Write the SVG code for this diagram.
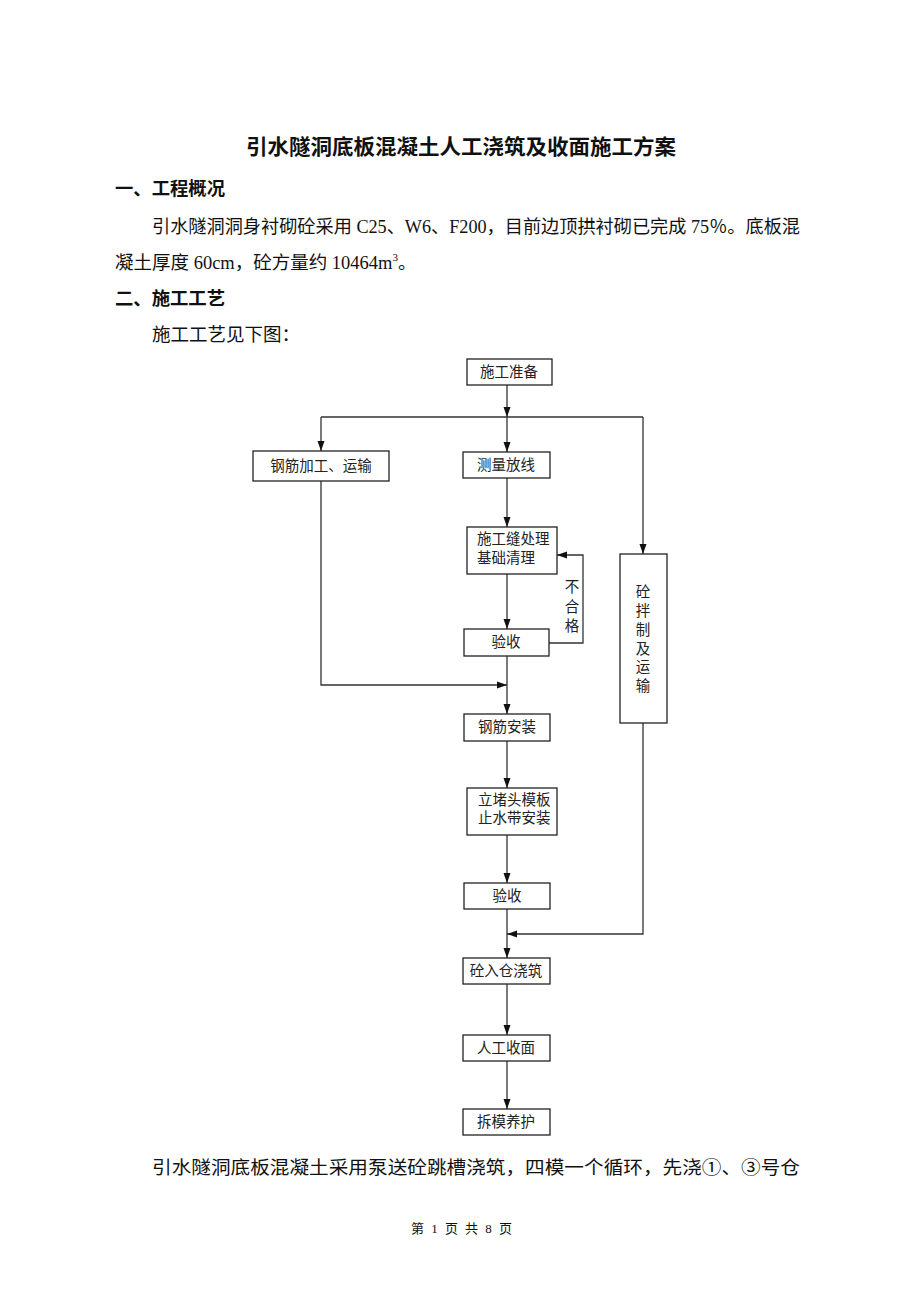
<svg xmlns="http://www.w3.org/2000/svg" width="920" height="1302" viewBox="0 0 920 1302">
<defs>
<marker id="arr" viewBox="0 0 10 10" refX="10" refY="5" markerWidth="10" markerHeight="10" markerUnits="userSpaceOnUse" orient="auto">
<path d="M0,1.5 L10,5 L0,8.5 Z" fill="#111"/>
</marker>
<style>
.doc{font-family:"Liberation Serif","Noto Sans CJK SC",serif;fill:#111}
.h{font-family:"Liberation Serif","Noto Sans CJK SC",sans-serif;font-weight:bold;fill:#111}
.box{fill:#fff;stroke:#222;stroke-width:1.3}
.lbl{font-family:"Liberation Serif","Noto Sans CJK SC",serif;font-size:14.5px;fill:#222;text-anchor:middle;dominant-baseline:central}
.lbll{font-family:"Liberation Serif","Noto Sans CJK SC",serif;font-size:14.5px;fill:#222;dominant-baseline:central}
.c{fill:none;stroke:#333;stroke-width:1.3}
.ca{fill:none;stroke:#333;stroke-width:1.3;marker-end:url(#arr)}
</style>
</defs>
<rect width="920" height="1302" fill="#fff"/>

<g id="text">
<text class="h" x="461" y="154" font-size="21" text-anchor="middle" textLength="430" lengthAdjust="spacingAndGlyphs">引水隧洞底板混凝土人工浇筑及收面施工方案</text>
<text class="h" x="115" y="195" font-size="18" textLength="110" lengthAdjust="spacingAndGlyphs">一、工程概况</text>
<text class="doc" x="152" y="233" font-size="18.5" textLength="648" lengthAdjust="spacingAndGlyphs">引水隧洞洞身衬砌砼采用 C25、W6、F200，目前边顶拱衬砌已完成 75％。底板混</text>
<text class="doc" x="115" y="269" font-size="18.5">凝土厚度 60cm，砼方量约 10464m<tspan font-size="11" dy="-8">3</tspan><tspan dy="8">。</tspan></text>
<text class="h" x="115" y="305" font-size="18" textLength="110" lengthAdjust="spacingAndGlyphs">二、施工工艺</text>
<text class="doc" x="152" y="341" font-size="18.5">施工工艺见下图：</text>
<text class="doc" x="152" y="1174" font-size="18.5" textLength="648" lengthAdjust="spacingAndGlyphs">引水隧洞底板混凝土采用泵送砼跳槽浇筑，四模一个循环，先浇①、③号仓</text>
<text class="doc" x="411" y="1233" font-size="13" textLength="101" lengthAdjust="spacing">第 1 页 共 8 页</text>
</g>

<g id="connectors">
<path class="ca" d="M507,385 L507,417"/>
<path class="c" d="M321,417 L643,417"/>
<path class="ca" d="M321,417 L321,451"/>
<path class="ca" d="M507,417 L507,452"/>
<path class="ca" d="M643,417 L643,554"/>
<path class="ca" d="M507,478 L507,527"/>
<path class="ca" d="M507,574 L507,629"/>
<path class="ca" d="M549,643 L583,643 L583,555 L557,555"/>
<path class="ca" d="M321,481 L321,685 L507,685"/>
<path class="ca" d="M507,656 L507,714"/>
<path class="ca" d="M507,741 L507,788"/>
<path class="ca" d="M507,835 L507,883"/>
<path class="ca" d="M507,909 L507,958"/>
<path class="ca" d="M643,723 L643,934 L507,934"/>
<path class="ca" d="M507,984 L507,1035"/>
<path class="ca" d="M507,1061 L507,1109"/>
</g>

<g id="n_prep"><rect class="box" x="467" y="359" width="85" height="26"/><text class="lbl" x="509" y="372">施工准备</text></g>
<g id="n_rebar_proc"><rect class="box" x="253" y="451" width="136" height="30"/><text class="lbl" x="321" y="466">钢筋加工、运输</text></g>
<g id="n_survey"><rect class="box" x="463" y="452" width="87" height="26"/><text class="lbl" x="506" y="465">测量放线</text></g>
<g id="n_joint"><rect class="box" x="467" y="527" width="90" height="47"/><text class="lbll" x="477" y="539">施工缝处理</text><text class="lbll" x="477" y="558">基础清理</text></g>
<g id="n_check1"><rect class="box" x="464" y="629" width="85" height="27"/><text class="lbl" x="506" y="642">验收</text></g>
<g id="n_fail"><text class="lbl" x="572" y="587">不</text><text class="lbl" x="572" y="607">合</text><text class="lbl" x="572" y="626">格</text></g>
<g id="n_mix"><rect class="box" x="620" y="554" width="47" height="169"/>
<text class="lbl" x="643" y="592">砼</text><text class="lbl" x="643" y="611">拌</text><text class="lbl" x="643" y="630">制</text><text class="lbl" x="643" y="649">及</text><text class="lbl" x="643" y="667">运</text><text class="lbl" x="643" y="686">输</text></g>
<g id="n_rebar_inst"><rect class="box" x="464" y="714" width="86" height="27"/><text class="lbl" x="507" y="727">钢筋安装</text></g>
<g id="n_form"><rect class="box" x="467" y="788" width="90" height="47"/><text class="lbll" x="478" y="800">立堵头模板</text><text class="lbll" x="478" y="818">止水带安装</text></g>
<g id="n_check2"><rect class="box" x="464" y="883" width="86" height="26"/><text class="lbl" x="507" y="896">验收</text></g>
<g id="n_pour"><rect class="box" x="463" y="958" width="87" height="26"/><text class="lbl" x="506" y="971">砼入仓浇筑</text></g>
<g id="n_finish"><rect class="box" x="463" y="1035" width="87" height="26"/><text class="lbl" x="506" y="1048">人工收面</text></g>
<g id="n_cure"><rect class="box" x="463" y="1109" width="87" height="26"/><text class="lbl" x="506" y="1122">拆模养护</text></g>
</svg>
